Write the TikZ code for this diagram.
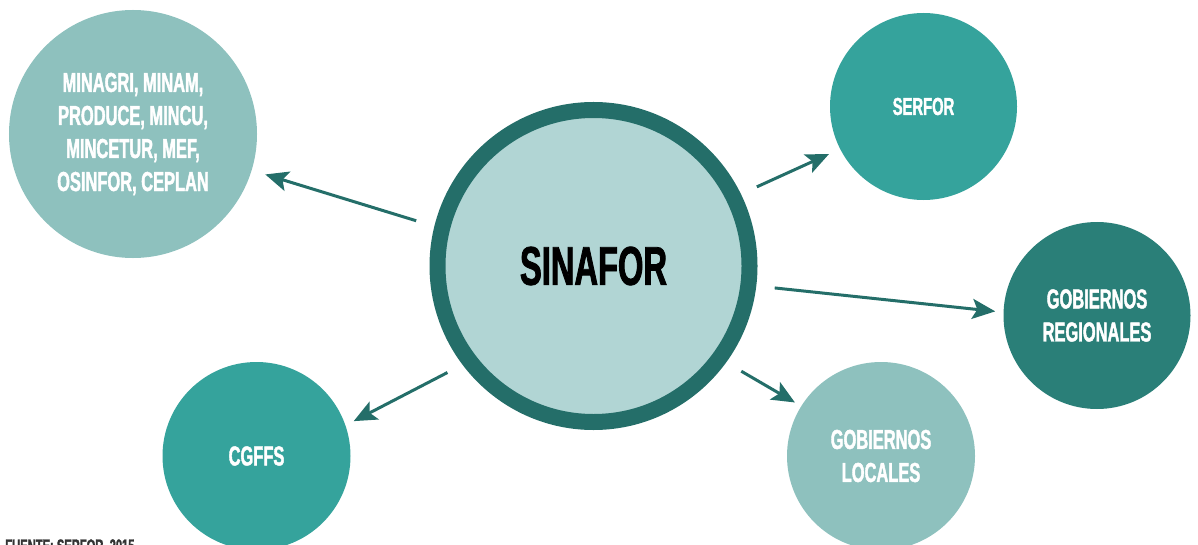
\documentclass[tikz,border=0pt]{standalone}
\usepackage{fontspec}
\usepackage{tikz}
\usetikzlibrary{arrows.meta,positioning}
\newfontfamily\bebas[FakeStretch=0.6,FakeBold=1.5]{Liberation Sans}
\definecolor{ring}{HTML}{246E69}
\definecolor{core}{HTML}{B1D5D4}
\definecolor{pale}{HTML}{8EC1BE}
\definecolor{mid}{HTML}{35A39C}
\definecolor{deep}{HTML}{2A7F78}
\tikzset{>={Stealth[length=4.6mm,width=4mm,inset=1mm]}}
\tikzset{org/.style={shape=circle, inner sep=0, minimum size=37.4mm, text=white,
    align=center, font=\bebas\bfseries\fontsize{15.6}{18.8}\selectfont}}
\tikzset{link/.style={draw=ring, line width=0.6mm}}

\begin{document}
\begin{tikzpicture}[x=0.2mm, y=-0.2mm]
    \useasboundingbox (0,0) rectangle (1198,545);
    % centre
    \node[draw=ring, fill=core, line width=3.2mm, shape=circle, inner sep=0,
      minimum size=62.4mm, font=\bebas\bfseries\fontsize{31}{36}\selectfont] (sin) at (593.5,266) {SINAFOR};
    % members
    \node[org, fill=pale, minimum size=49.6mm] (min) at (133,134) {MINAGRI, MINAM,\\PRODUCE, MINCU,\\MINCETUR, MEF,\\OSINFOR, CEPLAN};
    \node[org, fill=mid, font=\bebas\bfseries\fontsize{14}{17}\selectfont] (ser) at (923.5,106.5) {SERFOR};
    \node[org, fill=deep] (reg) at (1097,315.5) {GOBIERNOS\\REGIONALES};
    \node[org, fill=pale, minimum size=37.6mm] (loc) at (881,456) {GOBIERNOS\\LOCALES};
    \node[org, fill=mid, minimum size=37.6mm] (cgf) at (256.5,456) {CGFFS};
    \node[anchor=north west, inner sep=0, text=black!80,
      font=\bebas\bfseries\fontsize{10.6}{12}\selectfont] (src) at (5,539) {FUENTE: SERFOR, 2015};

    \draw [->][link, shorten <=3.8mm, shorten >=2.8mm] (sin.166.8) to (min.343);
    \draw [->][link, shorten <=3.5mm, shorten >=2.4mm] (sin.26.5) to (ser.207.9);
    \draw [->][link, shorten <=3.7mm, shorten >=1.6mm] (sin.353.7) to (reg.178);
    \draw [->][link, shorten <=3.5mm, shorten >=1.4mm] (sin.324.6) to (loc.148.4);
    \draw [->][link, shorten <=3.4mm, shorten >=1.8mm] (sin.217.2) to (cgf.19.4);
\end{tikzpicture}
\end{document}
